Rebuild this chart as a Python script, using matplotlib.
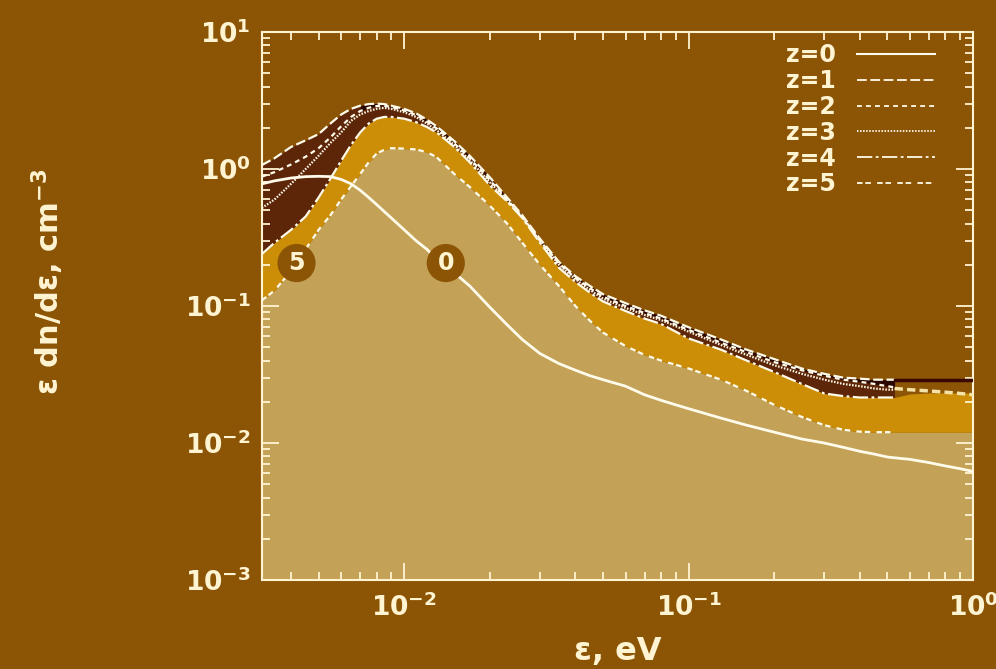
import numpy as np
import matplotlib
matplotlib.use('Agg')
import matplotlib.pyplot as plt
from matplotlib.lines import Line2D

# ---- data ----
energy = [0.00316, 0.0035, 0.004, 0.0045, 0.005, 0.0055, 0.006, 0.0065, 0.007, 0.0075,
          0.008, 0.0085, 0.009, 0.01, 0.011, 0.012, 0.013, 0.015, 0.017, 0.02,
          0.023, 0.026, 0.03, 0.035, 0.04, 0.045, 0.05, 0.06, 0.07, 0.08,
          0.1, 0.13, 0.16, 0.2, 0.25, 0.3, 0.35, 0.4, 0.45, 0.5, 0.53]

z0 = [0.78, 0.82, 0.86, 0.88, 0.885, 0.88, 0.84, 0.78, 0.70, 0.62,
      0.55, 0.49, 0.44, 0.36, 0.30, 0.26, 0.22, 0.175, 0.14, 0.098,
      0.073, 0.057, 0.045, 0.038, 0.034, 0.031, 0.029, 0.026, 0.0225, 0.0205,
      0.0178, 0.0152, 0.0135, 0.012, 0.0107, 0.0100, 0.0093, 0.0087, 0.0083, 0.0079, 0.0078]

z1 = [1.07, 1.2, 1.45, 1.62, 1.8, 2.15, 2.5, 2.75, 2.9, 2.98,
      3.0, 2.98, 2.9, 2.75, 2.55, 2.3, 2.05, 1.6, 1.25, 0.87,
      0.62, 0.46, 0.31, 0.21, 0.165, 0.14, 0.122, 0.105, 0.093, 0.085,
      0.070, 0.057, 0.048, 0.041, 0.035, 0.032, 0.030, 0.0295, 0.029, 0.029, 0.029]

z2 = [0.88, 0.95, 1.08, 1.23, 1.42, 1.7, 2.05, 2.4, 2.65, 2.8,
      2.88, 2.9, 2.84, 2.68, 2.48, 2.22, 1.98, 1.54, 1.2, 0.83,
      0.6, 0.45, 0.30, 0.205, 0.16, 0.135, 0.117, 0.1, 0.089, 0.081,
      0.067, 0.054, 0.046, 0.039, 0.034, 0.031, 0.029, 0.028, 0.027, 0.026, 0.0255]

z3 = [0.52, 0.6, 0.78, 1.0, 1.25, 1.55, 1.85, 2.25, 2.5, 2.65,
      2.75, 2.8, 2.75, 2.6, 2.4, 2.15, 1.92, 1.5, 1.16, 0.80,
      0.59, 0.445, 0.30, 0.2, 0.157, 0.131, 0.113, 0.097, 0.086, 0.079,
      0.065, 0.052, 0.044, 0.037, 0.032, 0.029, 0.027, 0.026, 0.025, 0.0245, 0.0245]

z4 = [0.24, 0.29, 0.36, 0.45, 0.62, 0.85, 1.15, 1.5, 1.85, 2.15,
      2.33, 2.4, 2.4, 2.33, 2.2, 2.03, 1.85, 1.45, 1.12, 0.76,
      0.58, 0.44, 0.29, 0.19, 0.15, 0.125, 0.108, 0.092, 0.081, 0.074,
      0.058, 0.048, 0.040, 0.033, 0.027, 0.023, 0.022, 0.0215, 0.0215, 0.0215, 0.0215]

z5 = [0.11, 0.13, 0.18, 0.26, 0.36, 0.46, 0.60, 0.75, 0.92, 1.12,
      1.30, 1.38, 1.42, 1.41, 1.39, 1.33, 1.22, 0.92, 0.74, 0.54,
      0.40, 0.29, 0.20, 0.14, 0.10, 0.078, 0.064, 0.051, 0.044, 0.040,
      0.035, 0.029, 0.024, 0.019, 0.0155, 0.0135, 0.0125, 0.0121, 0.012, 0.012, 0.012]

tail_energy = [0.53, 0.6, 0.7, 0.8, 0.9, 1.0]
z0_tail = [0.0078, 0.0076, 0.0072, 0.0068, 0.0065, 0.0062]
z4_tail = [0.0215, 0.0228, 0.0232, 0.0232, 0.0232, 0.0232]
z5_tail = [0.012, 0.012, 0.012, 0.012, 0.012, 0.012]
tail_dark = [0.029, 0.029, 0.029, 0.029, 0.029, 0.029]
tail_dashed = [0.025, 0.0245, 0.024, 0.0235, 0.023, 0.0225]

labels = ['z=0', 'z=1', 'z=2', 'z=3', 'z=4', 'z=5']
tag_pos = {'5': (0.00418, 0.206), '0': (0.0140, 0.206)}

# ---- style ----
BG = '#8C5506'
TAN = '#C3A157'
GOLD = '#CC8E07'
DARK = '#5E2608'
BLACK = '#2A0600'
CREAM = '#FFF4D2'
LINE = '#FFFBEA'

plt.rcParams['font.family'] = ['DejaVu Sans']
plt.rcParams['font.weight'] = 'bold'
plt.rcParams['axes.labelweight'] = 'bold'
plt.rcParams['mathtext.default'] = 'bf'
plt.rcParams['lines.scale_dashes'] = False

fig = plt.figure(figsize=(9.96, 6.69), dpi=100, facecolor=BG)
ax = fig.add_axes([0.2631, 0.1330, 0.7138, 0.8191])
ax.set_facecolor(BG)
ax.set_xscale('log')
ax.set_yscale('log')
ax.set_xlim(10 ** -2.5, 1.0)
ax.set_ylim(1e-3, 10)

full_e = energy + tail_energy[1:]
tan_top = z5 + z5_tail[1:]
gold_top = z4 + z4_tail[1:]
ax.fill_between(full_e, 1e-3, tan_top, color=TAN, lw=0, zorder=1)
ax.fill_between(full_e, tan_top, gold_top, color=GOLD, lw=0, zorder=1)
ax.fill_between(energy, z4, z1, color=DARK, lw=0, zorder=1.2)
mask = np.array(energy) >= 0.0068
ax.fill_between(energy, z2, z1, where=mask, color=BLACK, lw=0, zorder=1.4)

dash_styles = [None, (7, 2.6), (3.5, 3), (1.1, 1.1), (11, 2.5, 2, 2.5), (4, 2, 4, 4.5)]
series = [z0, z1, z2, z3, z4, z5]
handles = []
for lab, ys, d in zip(labels, series, dash_styles):
    if d is None:
        ax.plot(energy + tail_energy[1:], ys + z0_tail[1:], color=LINE, lw=2.0, zorder=3)
        h = Line2D([], [], color=LINE, lw=1.5)
    else:
        ln, = ax.plot(energy, ys, color=LINE, lw=1.6, zorder=3)
        ln.set_dashes(d)
        h = Line2D([], [], color=LINE, lw=1.3)
        h.set_dashes(d)
    handles.append(h)

ax.plot(tail_energy, tail_dark, color='#3A0800', lw=2.5, zorder=3)
tl, = ax.plot(tail_energy, tail_dashed, color='#F4E2A6', lw=2.5, zorder=3)
tl.set_dashes((6, 3))

for t, (xx, yy) in tag_pos.items():
    ax.text(xx, yy, t, ha='center', va='center', fontsize=17, color=CREAM,
            fontweight='bold', zorder=6,
            bbox=dict(boxstyle='circle,pad=0.3', fc=BG, ec='none'))

ax.legend(handles, labels, loc='upper right', bbox_to_anchor=(0.9466, 0.980),
          markerfirst=False, frameon=False, fontsize=17, handlelength=3.3,
          handletextpad=0.9, labelspacing=0.08, borderpad=0, borderaxespad=0,
          labelcolor=CREAM)

ax.tick_params(which='both', direction='in', top=True, right=True, colors=CREAM, width=1.3)
ax.tick_params(which='major', length=12, labelsize=19)
ax.tick_params(which='minor', length=6)
ax.tick_params(axis='x', which='major', pad=10)
ax.tick_params(axis='y', which='major', pad=8)
for sp in ax.spines.values():
    sp.set_color(CREAM)
    sp.set_linewidth(1.5)

ax.set_xlabel('ε, eV', fontsize=23, color=CREAM, fontweight='bold', labelpad=10)
ax.set_ylabel('ε dn/dε, cm$^{-3}$', fontsize=22, color=CREAM, fontweight='bold')
ax.yaxis.set_label_coords(-0.276, 0.544)

fig.savefig('out.png', dpi=100, facecolor=BG)
